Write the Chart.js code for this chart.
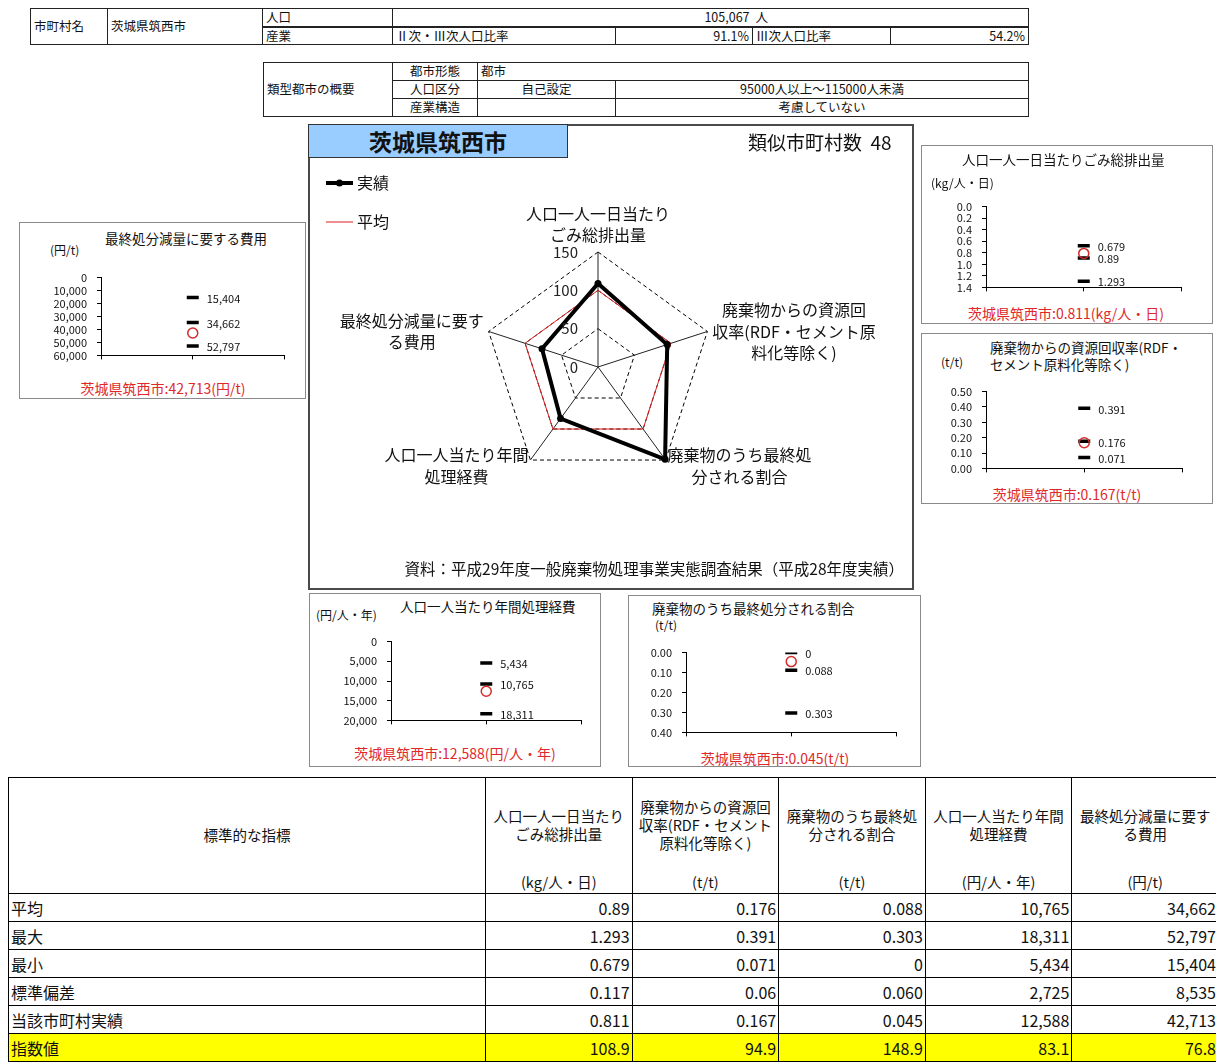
<!DOCTYPE html>
<html lang="ja">
  <head>
    <meta charset="utf-8" />
    <title>茨城県筑西市 一般廃棄物処理 指標比較</title>
    <style>
      * {
        margin: 0;
        padding: 0;
        box-sizing: border-box;
        font-family: "Noto Sans CJK JP", sans-serif;
      }
      html,
      body {
        width: 1216px;
        height: 1063px;
        overflow: hidden;
        background: #fff;
        color: #111;
      }
      #page {
        position: relative;
        width: 1216px;
        height: 1063px;
      }
      .abs {
        position: absolute;
      }
      .txt {
        position: absolute;
        white-space: nowrap;
        line-height: 1;
        transform: translateY(-50%);
      }
      .ctr {
        transform: translate(-50%, -50%);
      }
      table {
        position: absolute;
        border-collapse: collapse;
        table-layout: fixed;
      }
      .hdr td {
        border: 1px solid #222;
        font-size: 12.5px;
        line-height: 1;
        height: 18px;
        padding: 0 3px;
        white-space: nowrap;
        overflow: hidden;
      }
      .hdr .thick td.b2 {
        border-top: 2px solid #222;
      }
      .r {
        text-align: right;
      }
      .c {
        text-align: center;
      }
      .nobr {
        border-right: none !important;
      }
      .nobl {
        border-left: none !important;
      }
      .box {
        position: absolute;
        border: 1.5px solid #8a8a8a;
      }
      #stats td {
        border: 1.5px solid #000;
        font-size: 16px;
        height: 28px;
        padding: 0 2px;
        line-height: 1;
        white-space: nowrap;
      }
      #stats tr.head td {
        height: 116px;
        font-size: 14.5px;
        text-align: center;
        vertical-align: top;
        padding: 0;
      }
      #stats .ttl {
        height: 94px;
        display: flex;
        align-items: center;
        justify-content: center;
        line-height: 18px;
        padding: 0 6px;
        white-space: normal;
      }
      #stats .unit {
        height: 20px;
        line-height: 20px;
      }
      #stats tr.idx td {
        background: #ffff00;
      }
    </style>
  </head>
  <body>
    <div id="page">
      <table class="hdr" style="left: 30px; top: 8px; width: 998px">
        <colgroup>
          <col style="width: 77px" />
          <col style="width: 155px" />
          <col style="width: 130px" />
          <col style="width: 223px" />
          <col style="width: 137px" />
          <col style="width: 138px" />
          <col style="width: 138px" />
        </colgroup>
        <tr>
          <td rowspan="2">市町村名</td>
          <td rowspan="2">茨城県筑西市</td>
          <td>人口</td>
          <td colspan="2" class="r nobr">105,067</td>
          <td colspan="2" class="nobl">人</td>
        </tr>
        <tr class="thick">
          <td class="b2">産業</td>
          <td class="b2">Ⅱ次・Ⅲ次人口比率</td>
          <td class="b2 r">91.1%</td>
          <td class="b2">Ⅲ次人口比率</td>
          <td class="b2 r">54.2%</td>
        </tr>
      </table>

      <table class="hdr" style="left: 263px; top: 62px; width: 765px">
        <colgroup>
          <col style="width: 129px" />
          <col style="width: 85px" />
          <col style="width: 138px" />
          <col style="width: 413px" />
        </colgroup>
        <tr>
          <td rowspan="3">類型都市の概要</td>
          <td class="c">都市形態</td>
          <td colspan="2">都市</td>
        </tr>
        <tr>
          <td class="c">人口区分</td>
          <td class="c">自己設定</td>
          <td class="c">95000人以上～115000人未満</td>
        </tr>
        <tr>
          <td class="c">産業構造</td>
          <td></td>
          <td class="c">考慮していない</td>
        </tr>
      </table>

      <div class="abs" style="left: 308px; top: 124px; width: 606px; height: 466px; border: 2px solid #4a4a4a"></div>
      <canvas id="radar" class="abs" style="left: 310px; top: 126px" width="602" height="462"></canvas>
      <div
        class="abs"
        style="left: 308px; top: 124px; width: 260px; height: 34px; background: #99ccff; border: 1.5px solid #333;
          display: flex; align-items: center; justify-content: center; font-size: 23px; font-weight: bold"
      >茨城県筑西市</div>
      <div class="txt" style="left: 748px; top: 141px; font-size: 19px">類似市町村数&nbsp;&nbsp;48</div>
      <div class="txt" style="right: 312px; top: 569px; font-size: 15.5px">資料：平成29年度一般廃棄物処理事業実態調査結果（平成28年度実績）</div>

      <table id="stats" style="left: 8px; top: 777px; width: 1210px"></table>
    </div>

    <script src="https://cdn.jsdelivr.net/npm/chart.js@4.4.1/dist/chart.umd.min.js"></script>
    <script>
      // data block
      const cityName = "茨城県筑西市";
      const categories = [
        ["人口一人一日当たり", "ごみ総排出量"],
        ["廃棄物からの資源回", "収率(RDF・セメント原", "料化等除く)"],
        ["廃棄物のうち最終処", "分される割合"],
        ["人口一人当たり年間", "処理経費"],
        ["最終処分減量に要す", "る費用"],
      ];
      const units = ["kg/人・日", "t/t", "t/t", "円/人・年", "円/t"];
      const avgVals = [0.89, 0.176, 0.088, 10765, 34662];
      const maxVals = [1.293, 0.391, 0.303, 18311, 52797];
      const minVals = [0.679, 0.071, 0, 5434, 15404];
      const sdVals = ["0.117", "0.06", "0.060", "2,725", "8,535"];
      const actualVals = [0.811, 0.167, 0.045, 12588, 42713];
      const indexVals = [108.9, 94.9, 148.9, 83.1, 76.8];
      const avgIndex = [100, 100, 100, 100, 100];
      const seriesNames = ["実績", "平均"];
      const radarTicks = [0, 50, 100, 150];
      const rowNames = ["平均", "最大", "最小", "標準偏差", "当該市町村実績", "指数値"];
      // small charts: axis range per indicator
      const axisMax = [1.4, 0.5, 0.4, 20000, 60000];
      const axisStep = [0.2, 0.1, 0.1, 5000, 10000];
      const tickDecimals = [1, 2, 2, 0, 0];

      const fmt = (v) => (v >= 1000 ? v.toLocaleString("en-US") : String(v));
      const FONT = '"Noto Sans CJK JP", sans-serif';
      Chart.defaults.font.family = FONT;
      Chart.defaults.color = "#111";

      const page = document.getElementById("page");
      function addText(txt, x, y, style) {
        const d = document.createElement("div");
        d.className = "txt";
        d.textContent = txt;
        d.style.left = x + "px";
        d.style.top = y + "px";
        Object.assign(d.style, style || {});
        page.appendChild(d);
        return d;
      }

      // radar plugins
      const radarLabels = {
        id: "radarLabels",
        afterDraw(chart) {
          const { ctx } = chart;
          const scale = chart.scales.r;
          const lh = 21.5;
          ctx.save();
          ctx.font = "16px " + FONT;
          ctx.fillStyle = "#111";
          ctx.textAlign = "center";
          ctx.textBaseline = "middle";
          chart.data.labels.forEach((lines, i) => {
            const p = scale.getPointPosition(i, scale.drawingArea);
            const a = scale.getIndexAngle(i);
            const s = Math.sin(a);
            const c = Math.cos(a);
            const w = Math.max(...lines.map((l) => ctx.measureText(l).width));
            let cx, y0;
            if (Math.abs(s) < 0.1) {
              cx = p.x;
              y0 = p.y - 17 - (lines.length - 1) * lh;
            } else {
              const off = c > 0 ? 5 : 2;
              cx = s > 0 ? p.x + off + w / 2 : p.x - off - w / 2;
              y0 = c > 0 ? p.y - ((lines.length - 1) * lh) / 2 : p.y - 5;
            }
            lines.forEach((l, k) => ctx.fillText(l, cx, y0 + k * lh));
          });

          // tick values beside the top axis
          ctx.font = "15px " + FONT;
          ctx.textAlign = "right";
          ctx.fillStyle = "#222";
          radarTicks.forEach((v) => {
            const d = scale.getDistanceFromCenterForValue(v);
            ctx.fillText(String(v), scale.xCenter - 20, scale.yCenter - d);
          });
          ctx.restore();
        },
      };

      const radarLegend = {
        id: "radarLegend",
        afterDraw(chart) {
          const { ctx } = chart;
          ctx.save();
          chart.data.datasets.forEach((ds, i) => {
            const y = 57 + i * 39;
            ctx.strokeStyle = ds.borderColor;
            ctx.lineWidth = ds.borderWidth;
            ctx.beginPath();
            ctx.moveTo(16, y);
            ctx.lineTo(43, y);
            ctx.stroke();
            if (ds.pointRadius) {
              ctx.fillStyle = ds.pointBackgroundColor;
              ctx.beginPath();
              ctx.arc(29.5, y, ds.pointRadius, 0, Math.PI * 2);
              ctx.fill();
            }
            ctx.fillStyle = "#111";
            ctx.font = "16px " + FONT;
            ctx.textAlign = "left";
            ctx.textBaseline = "middle";
            ctx.fillText(ds.label, 47, y);
          });
          ctx.restore();
        },
      };

      new Chart(document.getElementById("radar"), {
        type: "radar",
        data: {
          labels: categories,
          datasets: [
            {
              label: seriesNames[0],
              data: indexVals,
              borderColor: "#000",
              borderWidth: 4,
              pointRadius: 3.5,
              pointBackgroundColor: "#000",
              pointBorderWidth: 0,
              fill: false,
            },
            {
              label: seriesNames[1],
              data: avgIndex,
              borderColor: "#dd1f1f",
              borderWidth: 1,
              pointRadius: 0,
              fill: false,
            },
          ],
        },
        options: {
          responsive: false,
          animation: false,
          events: [],
          layout: { padding: { left: 173, top: 126, right: 198, bottom: 105 } },
          plugins: { legend: { display: false }, tooltip: { enabled: false } },
          scales: {
            r: {
              min: 0,
              max: 150,
              ticks: { stepSize: 50, display: false },
              pointLabels: { display: false },
              grid: { color: "#000", lineWidth: 1, borderDash: [4, 3] },
              border: { dash: [4, 3] },
              angleLines: { color: "#222", lineWidth: 1 },
            },
          },
        },
        plugins: [radarLabels, radarLegend],
      });

      // small charts
      const miniLayout = [
        { box: [921, 145, 292, 179], axisX: 986, top: 198, bottom: 296, right: 1185, title: [962, 160], unit: [931, 183], caption: [1066, 313] },
        { box: [921, 333, 292, 171], axisX: 986, top: 383, bottom: 477, right: 1186, title: [990, 339], wrap: 192, unit: [941, 362], caption: [1067, 494] },
        { box: [628, 595, 293, 172], axisX: 686, top: 644, bottom: 741, right: 900, title: [652, 609], unit: [655, 625], caption: [775, 758] },
        { box: [309, 593, 292, 174], axisX: 391, top: 633, bottom: 729, right: 585, title: [400, 607], unit: [316, 615], caption: [455, 753] },
        { box: [19, 222, 287, 177], axisX: 101, top: 269, bottom: 364, right: 288, title: [105, 239], unit: [50, 250], caption: [163, 388] },
      ];

      const valueLabels = {
        id: "valueLabels",
        afterDatasetsDraw(chart) {
          const { ctx } = chart;
          const meta = chart.getDatasetMeta(1);
          ctx.save();
          ctx.font = "11px " + FONT;
          ctx.fillStyle = "#111";
          ctx.textAlign = "left";
          ctx.textBaseline = "middle";
          meta.data.forEach((pt, k) => {
            ctx.fillText(fmt(chart.data.datasets[1].data[k].y), pt.x + 14, pt.y + 1);
          });
          ctx.restore();
        },
      };

      miniLayout.forEach((L, i) => {
        const box = document.createElement("div");
        box.className = "box";
        box.style.left = L.box[0] + "px";
        box.style.top = L.box[1] + "px";
        box.style.width = L.box[2] + "px";
        box.style.height = L.box[3] + "px";
        page.appendChild(box);

        const t = addText(categories[i].join(""), L.title[0], L.title[1], { fontSize: "13.5px" });
        if (L.wrap) {
          t.style.whiteSpace = "normal";
          t.style.width = L.wrap + "px";
          t.style.lineHeight = "17px";
          t.style.transform = "none";
        }
        addText("(" + units[i] + ")", L.unit[0], L.unit[1], { fontSize: "12px" });
        const cap = addText(cityName + ":" + fmt(actualVals[i]) + "(" + units[i] + ")", L.caption[0], L.caption[1], {
          fontSize: "14px",
          color: "#e0282a",
        });
        cap.classList.add("ctr");

        const cv = document.createElement("canvas");
        cv.className = "abs";
        cv.width = L.right - L.axisX + 66;
        cv.height = L.bottom - L.top + 16;
        cv.style.left = L.axisX - 60 + "px";
        cv.style.top = L.top - 8 + "px";
        page.appendChild(cv);

        new Chart(cv, {
          type: "scatter",
          data: {
            datasets: [
              {
                label: seriesNames[0],
                data: [{ x: 1, y: actualVals[i] }],
                pointStyle: "circle",
                pointRadius: 5,
                borderColor: "#d42a2a",
                borderWidth: 1.5,
                backgroundColor: "rgba(0,0,0,0)",
              },
              {
                label: "統計",
                data: [minVals[i], avgVals[i], maxVals[i]].map((v) => ({ x: 1, y: v })),
                pointStyle: "line",
                pointRadius: 6,
                borderColor: "#000",
                borderWidth: 3.5,
              },
            ],
          },
          options: {
            responsive: false,
            animation: false,
            events: [],
            layout: { padding: { top: 8, right: 6, bottom: 2, left: 0 } },
            plugins: { legend: { display: false }, tooltip: { enabled: false } },
            scales: {
              x: {
                type: "linear",
                min: 0,
                max: 2,
                afterFit: (s) => {
                  s.height = 6;
                },
                ticks: { display: false, stepSize: 1 },
                grid: { drawOnChartArea: false, tickLength: 4, color: "#000" },
                border: { color: "#000", width: 1 },
              },
              y: {
                type: "linear",
                min: 0,
                max: axisMax[i],
                reverse: i !== 1,
                afterFit: (s) => {
                  s.width = 60;
                },
                ticks: {
                  stepSize: axisStep[i],
                  autoSkip: false,
                  padding: 10,
                  color: "#111",
                  font: { size: 11 },
                  callback: (v) => (tickDecimals[i] ? v.toFixed(tickDecimals[i]) : v.toLocaleString("en-US")),
                },
                grid: { drawOnChartArea: false, tickLength: 4, color: "#000" },
                border: { color: "#000", width: 1 },
              },
            },
          },
          plugins: [valueLabels],
        });
      });

      // bottom table
      const table = document.getElementById("stats");
      const colgroup = document.createElement("colgroup");
      [477, 146.6, 146.6, 146.6, 146.6, 146.6].forEach((w) => {
        const col = document.createElement("col");
        col.style.width = w + "px";
        colgroup.appendChild(col);
      });
      table.appendChild(colgroup);

      const head = document.createElement("tr");
      head.className = "head";
      const h0 = document.createElement("td");
      h0.style.verticalAlign = "middle";
      h0.textContent = "標準的な指標";
      head.appendChild(h0);
      categories.forEach((lines, i) => {
        const td = document.createElement("td");
        td.innerHTML = '<div class="ttl"></div><div class="unit"></div>';
        td.children[0].textContent = lines.join("");
        td.children[1].textContent = "(" + units[i] + ")";
        head.appendChild(td);
      });
      table.appendChild(head);

      const rows = [
        avgVals.map(fmt),
        maxVals.map(fmt),
        minVals.map(fmt),
        sdVals,
        actualVals.map(fmt),
        indexVals.map((v) => v.toFixed(1)),
      ];
      rows.forEach((vals, r) => {
        const tr = document.createElement("tr");
        if (r === rows.length - 1) tr.className = "idx";
        const th = document.createElement("td");
        th.textContent = rowNames[r];
        tr.appendChild(th);
        vals.forEach((v) => {
          const td = document.createElement("td");
          td.className = "r";
          td.textContent = v;
          tr.appendChild(td);
        });
        table.appendChild(tr);
      });
    </script>
  </body>
</html>
